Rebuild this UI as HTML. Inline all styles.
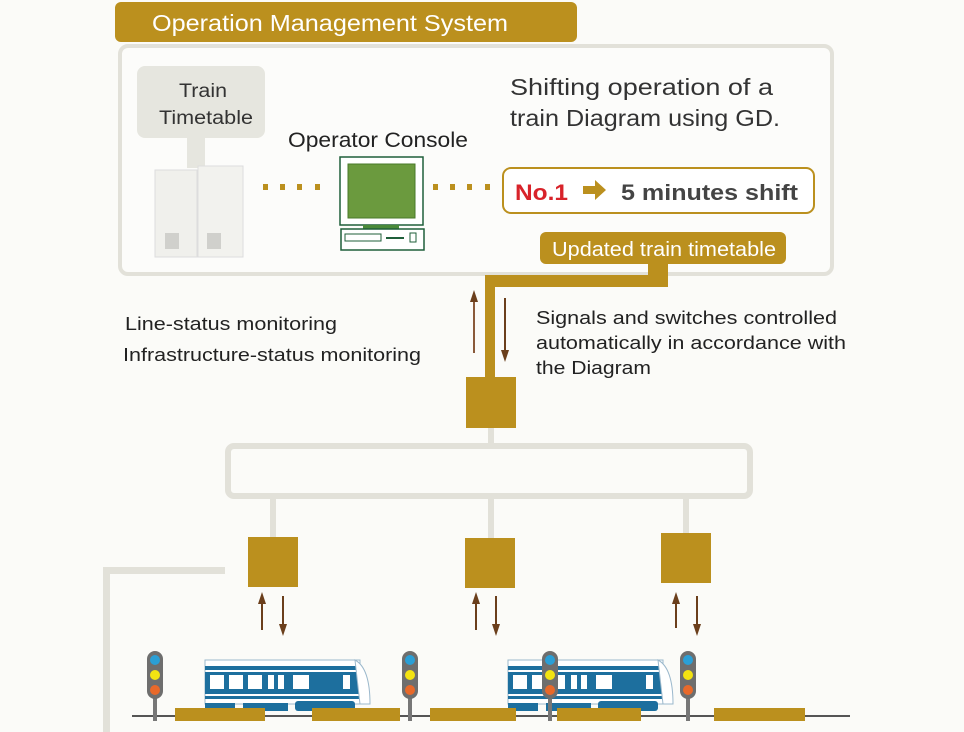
<!DOCTYPE html>
<html><head><meta charset="utf-8"><style>
body{margin:0;background:#fbfbf8;}
svg{display:block;font-family:"Liberation Sans",sans-serif;}
</style></head><body>
<svg width="964" height="732" viewBox="0 0 964 732" xmlns="http://www.w3.org/2000/svg">
<defs>
<marker id="ah" markerUnits="userSpaceOnUse" markerWidth="8" markerHeight="12" refX="4" refY="6" orient="auto"><path d="M0,0 L12,4 L0,8 z" transform="rotate(0)" fill="#6b3f1c"/></marker>
<marker id="ah2" markerUnits="userSpaceOnUse" markerWidth="12" markerHeight="8" refX="6" refY="4" orient="auto"><path d="M0,0 L12,4 L0,8 z" fill="#6b3f1c"/></marker>
<g id="train">
<rect x="0" y="2" width="155" height="44" fill="#fff" stroke="#9bb8cc" stroke-width="1"/>
<rect x="0" y="8" width="155" height="4" fill="#1d6f9e"/>
<rect x="0" y="14" width="155" height="22" fill="#1d6f9e"/>
<rect x="5" y="17" width="14" height="14" fill="#fff"/>
<rect x="24" y="17" width="14" height="14" fill="#fff"/>
<rect x="43" y="17" width="14" height="14" fill="#fff"/>
<rect x="63" y="17" width="6" height="14" fill="#fff"/>
<rect x="73" y="17" width="6" height="14" fill="#fff"/>
<rect x="88" y="17" width="16" height="14" fill="#fff"/>
<rect x="138" y="17" width="7" height="14" fill="#fff"/>
<rect x="0" y="38" width="155" height="3" fill="#1d6f9e"/>
<rect x="0" y="45" width="30" height="8" fill="#1d6f9e"/>
<rect x="38" y="45" width="45" height="8" fill="#1d6f9e"/>
<rect x="90" y="43" width="60" height="10" fill="#1d6f9e" rx="3"/>
<path d="M150,2 Q165,10 165,46 L155,46 Z" fill="#fff" stroke="#9bb8cc"/>
</g>
<g id="sig">
<rect x="-2" y="40" width="4" height="30" fill="#777"/>
<rect x="-8" y="0" width="16" height="48" rx="8" fill="#6e6e6e"/>
<circle cx="0" cy="9" r="5" fill="#2a9fd6"/>
<circle cx="0" cy="24" r="5" fill="#f3e312"/>
<circle cx="0" cy="39" r="5" fill="#e8692a"/>
</g>
</defs>

<rect x="120" y="46" width="712" height="228" rx="8" fill="#fcfcfa" stroke="#e2e1d9" stroke-width="4"/>
<rect x="115" y="2" width="462" height="40" rx="6" fill="#bb901e"/>
<text x="152" y="31" font-size="23" fill="#fff" textLength="356" lengthAdjust="spacingAndGlyphs">Operation Management System</text>

<rect x="137" y="66" width="128" height="72" rx="8" fill="#e6e6df"/>
<rect x="187" y="136" width="18" height="32" fill="#e6e6df"/>
<text x="179" y="97" font-size="19" fill="#333" textLength="48" lengthAdjust="spacingAndGlyphs">Train</text>
<text x="159" y="124" font-size="19" fill="#333" textLength="94" lengthAdjust="spacingAndGlyphs">Timetable</text>
<rect x="155" y="170" width="42" height="87" fill="#f0f0ec" stroke="#ddd"/>
<rect x="198" y="166" width="45" height="91" fill="#f2f2ee" stroke="#ddd"/>
<rect x="165" y="233" width="14" height="16" fill="#d0d0cc"/>
<rect x="207" y="233" width="14" height="16" fill="#d0d0cc"/>
<g fill="#bb901e">
<rect x="263" y="184" width="5" height="6"/><rect x="280" y="184" width="5" height="6"/><rect x="297" y="184" width="5" height="6"/><rect x="315" y="184" width="5" height="6"/>
<rect x="433" y="184" width="5" height="6"/><rect x="450" y="184" width="5" height="6"/><rect x="467" y="184" width="5" height="6"/><rect x="485" y="184" width="5" height="6"/>
</g>
<text x="288" y="147" font-size="21" fill="#222" textLength="180" lengthAdjust="spacingAndGlyphs">Operator Console</text>
<rect x="340" y="157" width="83" height="68" fill="#fff" stroke="#1f5f3a" stroke-width="1.5"/>
<rect x="348" y="164" width="67" height="54" fill="#6b9a3e" stroke="#4a7a2a"/>
<rect x="363" y="225" width="36" height="4" fill="#4a8a3a"/>
<rect x="341" y="229" width="83" height="21" fill="#fff" stroke="#1f5f3a" stroke-width="1.5"/>
<rect x="345" y="234" width="36" height="7" fill="none" stroke="#1f5f3a"/>
<rect x="386" y="237" width="18" height="2" fill="#1f5f3a"/>
<rect x="410" y="233" width="6" height="9" fill="none" stroke="#1f5f3a"/>

<text x="510" y="95" font-size="23" fill="#333" textLength="263" lengthAdjust="spacingAndGlyphs">Shifting operation of a</text>
<text x="510" y="126" font-size="23" fill="#333" textLength="270" lengthAdjust="spacingAndGlyphs">train Diagram using GD.</text>
<rect x="503" y="168" width="311" height="45" rx="8" fill="#fff" stroke="#bb901e" stroke-width="2"/>
<text x="515" y="200" font-size="22" font-weight="bold" fill="#d8232a" textLength="53" lengthAdjust="spacingAndGlyphs">No.1</text>
<path d="M583,186 h12 v-6 l11,10 l-11,10 v-6 h-12 z" fill="#bb901e"/>
<text x="621" y="200" font-size="22" font-weight="bold" fill="#444" textLength="177" lengthAdjust="spacingAndGlyphs">5 minutes shift</text>

<rect x="540" y="232" width="246" height="32" rx="6" fill="#bb901e"/>
<text x="552" y="256" font-size="20" fill="#fff" textLength="224" lengthAdjust="spacingAndGlyphs">Updated train timetable</text>
<path d="M648,262 h20 v25 h-173 v91 h-10 v-103 h163 z" fill="#bb901e"/>
<rect x="466" y="377" width="50" height="51" fill="#bb901e"/>
<line x1="474" y1="353" x2="474" y2="296" stroke="#8a5a3a" stroke-width="2" marker-end="url(#ah2)"/>
<line x1="505" y1="298" x2="505" y2="356" stroke="#6b3f1c" stroke-width="2" marker-end="url(#ah2)"/>

<text x="125" y="330" font-size="18" fill="#222" textLength="212" lengthAdjust="spacingAndGlyphs">Line-status monitoring</text>
<text x="123" y="361" font-size="18" fill="#222" textLength="298" lengthAdjust="spacingAndGlyphs">Infrastructure-status monitoring</text>
<text x="536" y="324" font-size="18" fill="#222" textLength="301" lengthAdjust="spacingAndGlyphs">Signals and switches controlled</text>
<text x="536" y="349" font-size="18" fill="#222" textLength="310" lengthAdjust="spacingAndGlyphs">automatically in accordance with</text>
<text x="536" y="374" font-size="18" fill="#222" textLength="115" lengthAdjust="spacingAndGlyphs">the Diagram</text>

<rect x="488" y="428" width="6" height="16" fill="#e2e1d9"/>
<rect x="228" y="446" width="522" height="50" rx="6" fill="none" stroke="#e2e1d9" stroke-width="6"/>
<rect x="270" y="498" width="6" height="40" fill="#e2e1d9"/>
<rect x="488" y="498" width="6" height="40" fill="#e2e1d9"/>
<rect x="683" y="498" width="6" height="36" fill="#e2e1d9"/>
<rect x="248" y="537" width="50" height="50" fill="#bb901e"/>
<rect x="465" y="538" width="50" height="50" fill="#bb901e"/>
<rect x="661" y="533" width="50" height="50" fill="#bb901e"/>
<g stroke-width="2">
<line x1="262" y1="630" x2="262" y2="598" stroke="#6b3f1c" marker-end="url(#ah2)"/>
<line x1="283" y1="596" x2="283" y2="630" stroke="#6b3f1c" marker-end="url(#ah2)"/>
<line x1="476" y1="630" x2="476" y2="598" stroke="#6b3f1c" marker-end="url(#ah2)"/>
<line x1="496" y1="596" x2="496" y2="630" stroke="#6b3f1c" marker-end="url(#ah2)"/>
<line x1="676" y1="628" x2="676" y2="598" stroke="#6b3f1c" marker-end="url(#ah2)"/>
<line x1="697" y1="596" x2="697" y2="630" stroke="#6b3f1c" marker-end="url(#ah2)"/>
</g>
<rect x="103" y="567" width="122" height="7" fill="#e2e1d9"/>
<rect x="103" y="567" width="7" height="165" fill="#e2e1d9"/>

<use href="#train" x="205" y="658"/>
<use href="#train" x="508" y="658"/>
<rect x="132" y="715" width="718" height="2" fill="#555"/>
<g fill="#bb901e">
<rect x="175" y="708" width="90" height="13"/><rect x="312" y="708" width="88" height="13"/>
<rect x="430" y="708" width="86" height="13"/><rect x="557" y="708" width="84" height="13"/>
<rect x="714" y="708" width="91" height="13"/>
</g>
<use href="#sig" x="155" y="651"/>
<use href="#sig" x="410" y="651"/>
<use href="#sig" x="550" y="651"/>
<use href="#sig" x="688" y="651"/>
</svg>
</body></html>
